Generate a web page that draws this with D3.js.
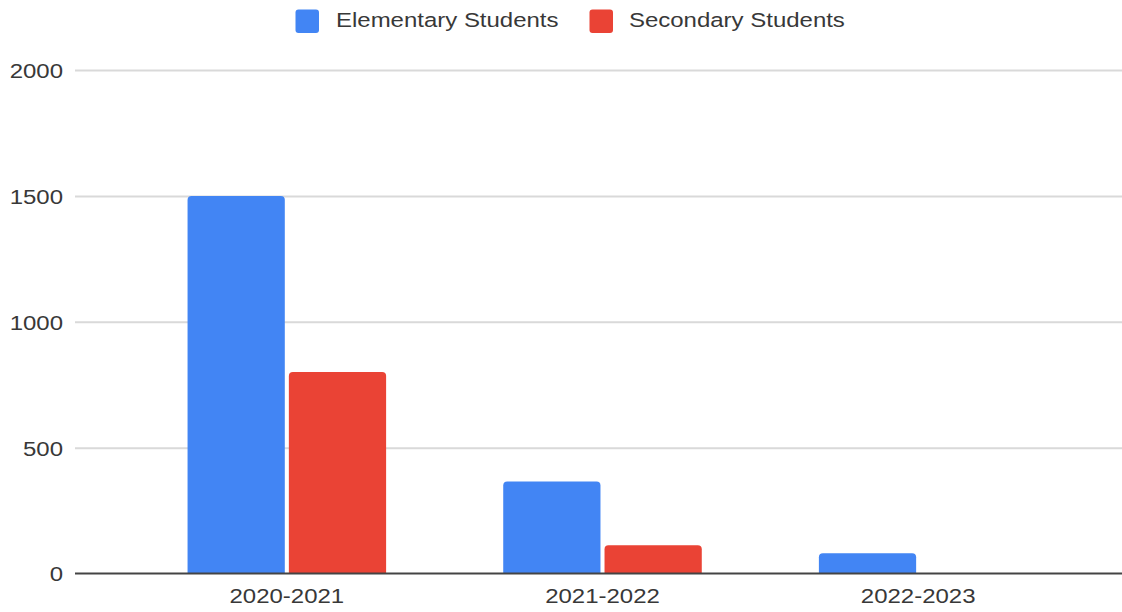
<!DOCTYPE html>
<html>
<head>
<meta charset="utf-8">
<script src="https://cdn.jsdelivr.net/npm/d3@7"></script>
<style>
  html, body { margin: 0; padding: 0; background: #fff; }
  svg { display: block; font-family: "Liberation Sans", Arial, sans-serif; }
</style>
</head>
<body>
<svg id="chart" width="1122" height="612"></svg>
<script>
// School years on the horizontal axis
const categories = ["2020-2021", "2021-2022", "2022-2023"];
// Series names
const seriesNames = ["Elementary Students", "Secondary Students"];
// Student counts per school year
const elementaryValues = [1500, 365, 80];
const secondaryValues = [800, 112, 0];
// Value-axis ticks
const yTicks = [0, 500, 1000, 1500, 2000];

const colors = { "Elementary Students": "#4285F4", "Secondary Students": "#EA4335" };
const seriesValues = { "Elementary Students": elementaryValues, "Secondary Students": secondaryValues };

const svg = d3.select("#chart");
const gridLeft = 75, gridRight = 1122;
const yTop = 70, yBottom = 573.5;
const fontSize = 20.5;
const stretch = 1.17;   // horizontal stretch of label glyphs
const textColor = "#383838";

const y = d3.scaleLinear().domain([0, 2000]).range([yBottom, yTop]);

const x0 = d3.scaleBand()
  .domain(categories)
  .range([129, 1076])
  .paddingInner(0.371)
  .paddingOuter(0.1855);

const x1 = d3.scaleBand()
  .domain(seriesNames)
  .range([0, x0.bandwidth()])
  .paddingInner(0.04);

// Horizontal gridlines and value labels
const yAxis = d3.axisLeft(y).tickValues(yTicks).tickFormat(d3.format("d")).tickSize(0).tickPadding(0);
const gAxis = svg.append("g").attr("transform", `translate(${gridLeft},0)`);
gAxis.call(yAxis);
gAxis.select(".domain").remove();
gAxis.selectAll(".tick line")
  .attr("x1", 0).attr("x2", gridRight - gridLeft)
  .attr("stroke", "#d9d9d9").attr("stroke-width", 2)
  .attr("stroke-opacity", d => d === 0 ? 0 : 1);
gAxis.selectAll(".tick text")
  .attr("x", -12 / stretch)
  .attr("transform", `scale(${stretch},1)`)
  .attr("fill", textColor)
  .attr("font-size", fontSize)
  .attr("font-family", "Liberation Sans, Arial, sans-serif")
  .attr("text-anchor", "end")
  .attr("dy", "0.36em");

// Bars with lightly rounded top corners
function barPath(x, yv, w, h, r) {
  if (h <= 0) return "";
  r = Math.min(r, h, w / 2);
  return `M${x},${yv + h}V${yv + r}Q${x},${yv} ${x + r},${yv}H${x + w - r}Q${x + w},${yv} ${x + w},${yv + r}V${yv + h}Z`;
}

const groups = svg.append("g").selectAll("g")
  .data(categories)
  .join("g")
  .attr("transform", d => `translate(${x0(d)},0)`);

groups.selectAll("path")
  .data((c, i) => seriesNames.map(s => ({ s, v: seriesValues[s][i] })))
  .join("path")
  .attr("fill", d => colors[d.s])
  .attr("d", d => barPath(x1(d.s), y(d.v), x1.bandwidth(), y(0) - y(d.v), 4));

// Baseline at zero
svg.append("line")
  .attr("x1", gridLeft).attr("x2", gridRight)
  .attr("y1", y(0)).attr("y2", y(0))
  .attr("stroke", "#444").attr("stroke-width", 2);

// Category labels
const xAxis = d3.axisBottom(x0).tickSize(0).tickPadding(0);
const gx = svg.append("g").attr("transform", `translate(0,${y(0)})`).call(xAxis);
gx.select(".domain").remove();
gx.selectAll(".tick text")
  .attr("y", 29.2)
  .attr("dy", 0)
  .attr("transform", `scale(${stretch},1)`)
  .attr("fill", textColor)
  .attr("font-size", fontSize)
  .attr("font-family", "Liberation Sans, Arial, sans-serif");

// Legend
const legendItems = [
  { name: seriesNames[0], sx: 295.5, tx: 336 },
  { name: seriesNames[1], sx: 589.5, tx: 629 }
];
const legend = svg.append("g");
legend.selectAll("rect")
  .data(legendItems)
  .join("rect")
  .attr("x", d => d.sx).attr("y", 9.5)
  .attr("width", 23.5).attr("height", 23.5)
  .attr("rx", 3)
  .attr("fill", d => colors[d.name]);
legend.selectAll("text")
  .data(legendItems)
  .join("text")
  .attr("x", d => d.tx / stretch).attr("y", 27.3)
  .attr("transform", `scale(${stretch},1)`)
  .attr("fill", textColor)
  .attr("font-size", fontSize)
  .text(d => d.name);
</script>
</body>
</html>
